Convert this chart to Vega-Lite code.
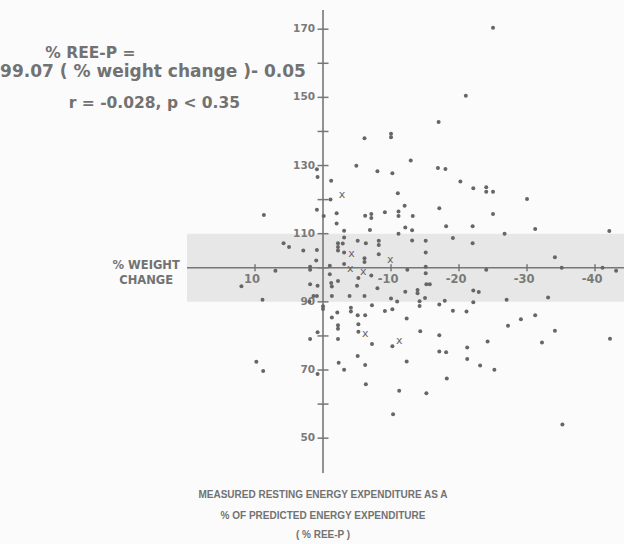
{
  "$schema": "https://vega.github.io/schema/vega-lite/v6.json",
  "width": 624,
  "height": 544,
  "padding": 0,
  "autosize": "none",
  "background": "#fbfbfb",
  "config": {"view": {"stroke": null}, "text": {"font": "DejaVu Sans", "color": "#6e6e6e"}},
  "datasets": {
    "band": [{"x": 20, "x2": -44.3, "y": 90, "y2": 110}],
    "axes": [
      {"x": 20, "x2": -44.3, "y": 100, "y2": 100},
      {"x": 0, "x2": 0, "y": 39.8, "y2": 175.6}
    ],
    "yticks": [{"v": 50}, {"v": 60}, {"v": 70}, {"v": 80}, {"v": 90}, {"v": 100}, {"v": 110}, {"v": 120}, {"v": 130}, {"v": 140}, {"v": 150}, {"v": 160}, {"v": 170}],
    "ylabels": [{"v": 50, "label": "50"}, {"v": 70, "label": "70"}, {"v": 90, "label": "90"}, {"v": 110, "label": "110"}, {"v": 130, "label": "130"}, {"v": 150, "label": "150"}, {"v": 170, "label": "170"}],
    "xticks": [{"v": 10}, {"v": -10}, {"v": -20}, {"v": -30}, {"v": -40}],
    "xlabels": [{"v": 10, "label": "10"}, {"v": -10, "label": "-10"}, {"v": -20, "label": "-20"}, {"v": -30, "label": "-30"}, {"v": -40, "label": "-40"}],
    "dots": [
      {"x": -25.0, "y": 170.4}, {"x": -21.0, "y": 150.5}, {"x": -17.0, "y": 142.8}, {"x": -6.1, "y": 138.0}, {"x": -10.0, "y": 139.3}, {"x": -10.0, "y": 138.3}, {"x": -12.9, "y": 131.5}, {"x": -4.9, "y": 129.9}, {"x": 0.9, "y": 128.9}, {"x": -16.9, "y": 129.3},
      {"x": -18.0, "y": 129.0}, {"x": -8.0, "y": 128.3}, {"x": -10.2, "y": 127.7}, {"x": 0.8, "y": 126.6}, {"x": -1.2, "y": 125.5}, {"x": -20.2, "y": 125.3}, {"x": -22.1, "y": 123.3}, {"x": -24.0, "y": 123.6}, {"x": -24.0, "y": 122.3}, {"x": -25.0, "y": 122.3},
      {"x": -11.0, "y": 121.9}, {"x": -30.0, "y": 120.2}, {"x": -1.1, "y": 120.0}, {"x": -12.0, "y": 118.2}, {"x": -17.1, "y": 117.5}, {"x": 0.9, "y": 117.0}, {"x": 8.7, "y": 115.5}, {"x": -0.1, "y": 115.2}, {"x": -2.0, "y": 116.0}, {"x": -6.2, "y": 115.3},
      {"x": -7.1, "y": 115.8}, {"x": -7.1, "y": 114.6}, {"x": -9.1, "y": 116.3}, {"x": -11.1, "y": 116.5}, {"x": -11.1, "y": 115.2}, {"x": -13.2, "y": 115.2}, {"x": -25.0, "y": 115.8}, {"x": -2.0, "y": 113.0}, {"x": -12.1, "y": 111.8}, {"x": -18.1, "y": 112.2},
      {"x": -22.0, "y": 112.2}, {"x": -3.1, "y": 110.9}, {"x": -6.9, "y": 111.1}, {"x": -13.1, "y": 111.0}, {"x": -11.1, "y": 110.0}, {"x": -26.7, "y": 110.0}, {"x": -31.2, "y": 111.4}, {"x": -42.1, "y": 110.8}, {"x": -3.1, "y": 108.9}, {"x": -5.1, "y": 107.9},
      {"x": -6.3, "y": 107.2}, {"x": -8.2, "y": 107.9}, {"x": -8.2, "y": 106.7}, {"x": -13.1, "y": 108.0}, {"x": -15.1, "y": 107.9}, {"x": -19.1, "y": 108.7}, {"x": -22.0, "y": 107.2}, {"x": 5.8, "y": 107.2}, {"x": 5.0, "y": 106.1}, {"x": 2.9, "y": 105.1},
      {"x": 0.9, "y": 105.2}, {"x": -2.2, "y": 107.2}, {"x": -2.2, "y": 106.1}, {"x": -2.2, "y": 105.1}, {"x": -2.9, "y": 107.1}, {"x": -3.1, "y": 104.5}, {"x": -8.2, "y": 104.0}, {"x": -15.1, "y": 104.5}, {"x": 1.0, "y": 102.1}, {"x": -3.1, "y": 101.1},
      {"x": -6.1, "y": 102.8}, {"x": -6.1, "y": 101.7}, {"x": -34.1, "y": 103.1}, {"x": 1.9, "y": 100.3}, {"x": 1.9, "y": 99.4}, {"x": -1.0, "y": 100.6}, {"x": 7.0, "y": 99.1}, {"x": -12.4, "y": 99.4}, {"x": -15.1, "y": 100.3}, {"x": -15.1, "y": 98.4},
      {"x": -24.0, "y": 99.4}, {"x": -35.1, "y": 100.0}, {"x": -41.1, "y": 100.0}, {"x": -43.1, "y": 99.1}, {"x": -1.0, "y": 98.1}, {"x": -7.1, "y": 97.7}, {"x": -5.2, "y": 97.0}, {"x": -2.2, "y": 96.1}, {"x": -1.2, "y": 95.5}, {"x": -1.3, "y": 94.5},
      {"x": 1.9, "y": 95.2}, {"x": 0.8, "y": 94.7}, {"x": -5.0, "y": 94.7}, {"x": -8.0, "y": 94.0}, {"x": 12.0, "y": 94.6}, {"x": -15.2, "y": 95.2}, {"x": -15.7, "y": 95.2}, {"x": -12.1, "y": 93.0}, {"x": -13.9, "y": 93.5}, {"x": -13.9, "y": 92.5},
      {"x": -22.1, "y": 93.3}, {"x": -22.9, "y": 92.9}, {"x": 8.9, "y": 90.6}, {"x": 1.4, "y": 91.7}, {"x": 0.9, "y": 91.7}, {"x": -1.3, "y": 91.7}, {"x": -3.9, "y": 91.7}, {"x": -6.1, "y": 91.7}, {"x": -10.0, "y": 91.0}, {"x": -10.9, "y": 90.1},
      {"x": -14.2, "y": 90.2}, {"x": -14.2, "y": 88.8}, {"x": -15.0, "y": 91.1}, {"x": -17.1, "y": 89.2}, {"x": -17.9, "y": 90.3}, {"x": -22.1, "y": 89.9}, {"x": -27.0, "y": 90.6}, {"x": -33.1, "y": 91.3}, {"x": 2.0, "y": 90.0}, {"x": 0.0, "y": 88.7},
      {"x": 0.0, "y": 87.9}, {"x": -2.1, "y": 86.9}, {"x": -4.1, "y": 88.3}, {"x": -4.1, "y": 87.2}, {"x": -7.2, "y": 89.0}, {"x": -9.1, "y": 87.3}, {"x": -10.2, "y": 87.8}, {"x": -19.1, "y": 87.4}, {"x": -21.1, "y": 87.2}, {"x": -1.3, "y": 85.4},
      {"x": -5.1, "y": 86.1}, {"x": -6.2, "y": 86.1}, {"x": -12.3, "y": 85.1}, {"x": -29.1, "y": 84.9}, {"x": -31.2, "y": 86.1}, {"x": -2.2, "y": 83.1}, {"x": -2.2, "y": 82.1}, {"x": -5.2, "y": 83.4}, {"x": -27.2, "y": 83.0}, {"x": -5.2, "y": 81.2},
      {"x": 0.8, "y": 81.1}, {"x": -14.3, "y": 81.4}, {"x": -17.1, "y": 80.2}, {"x": -34.1, "y": 81.5}, {"x": 1.9, "y": 79.1}, {"x": -2.2, "y": 79.1}, {"x": -7.2, "y": 77.6}, {"x": -10.2, "y": 77.0}, {"x": -24.2, "y": 78.4}, {"x": -32.2, "y": 78.1},
      {"x": -42.2, "y": 79.2}, {"x": -17.1, "y": 75.4}, {"x": -18.1, "y": 75.2}, {"x": -21.2, "y": 76.6}, {"x": -5.1, "y": 74.1}, {"x": 9.8, "y": 72.4}, {"x": 8.8, "y": 69.7}, {"x": -2.3, "y": 72.1}, {"x": -3.1, "y": 70.1}, {"x": -6.2, "y": 71.5},
      {"x": 0.8, "y": 68.8}, {"x": -12.3, "y": 72.5}, {"x": -21.2, "y": 73.2}, {"x": -23.1, "y": 71.3}, {"x": -25.2, "y": 70.1}, {"x": -6.3, "y": 65.8}, {"x": -11.2, "y": 63.9}, {"x": -15.2, "y": 63.2}, {"x": -18.2, "y": 67.5}, {"x": -10.3, "y": 57.0},
      {"x": -35.2, "y": 54.0}
    ],
    "crosses": [
      {"x": -2.8, "y": 121.4}, {"x": -4.2, "y": 103.9}, {"x": -9.9, "y": 102.3}, {"x": -4.0, "y": 99.6}, {"x": -5.9, "y": 98.9}, {"x": -6.2, "y": 80.5}, {"x": -11.2, "y": 78.5}
    ],
    "equation": [
      {"x": 34.2, "y": 163.0, "text": "% REE-P =", "line": 1},
      {"x": 25.0, "y": 157.4, "text": "99.07 ( % weight change )- 0.05", "line": 2},
      {"x": 24.8, "y": 148.4, "text": "r = -0.028, p < 0.35", "line": 3}
    ],
    "weightlabel": [
      {"x": 26.0, "y": 100.5, "text": "% WEIGHT"},
      {"x": 26.0, "y": 96.2, "text": "CHANGE"}
    ],
    "bottomtitle": [
      {"x": 0, "y": 33.3, "text": "MEASURED RESTING ENERGY EXPENDITURE AS A"},
      {"x": 0, "y": 27.25, "text": "% OF PREDICTED ENERGY EXPENDITURE"},
      {"x": 0, "y": 21.6, "text": "( % REE-P )"}
    ]
  },
  "layer": [
    {
      "data": {"name": "band"},
      "mark": {"type": "rect", "color": "#e7e7e7"},
      "encoding": {
        "x": {"field": "x", "type": "quantitative", "scale": {"domain": [-44.26, 47.5], "reverse": true, "nice": false, "zero": false}, "axis": null},
        "x2": {"field": "x2"},
        "y": {"field": "y", "type": "quantitative", "scale": {"domain": [18.95, 178.57], "nice": false, "zero": false}, "axis": null},
        "y2": {"field": "y2"}
      }
    },
    {
      "data": {"name": "axes"},
      "mark": {"type": "rule", "color": "#777777", "strokeWidth": 1.6},
      "encoding": {
        "x": {"field": "x", "type": "quantitative"},
        "x2": {"field": "x2"},
        "y": {"field": "y", "type": "quantitative"},
        "y2": {"field": "y2"}
      }
    },
    {
      "data": {"name": "yticks"},
      "mark": {"type": "tick", "orient": "horizontal", "size": 11, "thickness": 1.5, "color": "#777777", "opacity": 1},
      "encoding": {
        "x": {"datum": 0, "type": "quantitative"},
        "y": {"field": "v", "type": "quantitative"}
      }
    },
    {
      "data": {"name": "xticks"},
      "mark": {"type": "tick", "orient": "vertical", "size": 7, "thickness": 1.5, "color": "#777777", "opacity": 1},
      "encoding": {
        "x": {"field": "v", "type": "quantitative"},
        "y": {"datum": 100, "type": "quantitative"}
      }
    },
    {
      "data": {"name": "ylabels"},
      "mark": {"type": "text", "align": "right", "baseline": "middle", "dx": -8, "fontSize": 10.5, "fontWeight": "bold", "color": "#7a7a7a"},
      "encoding": {
        "x": {"datum": 0, "type": "quantitative"},
        "y": {"field": "v", "type": "quantitative"},
        "text": {"field": "label"}
      }
    },
    {
      "data": {"name": "xlabels"},
      "mark": {"type": "text", "align": "center", "baseline": "middle", "dx": -3, "dy": 12, "fontSize": 11.5, "fontWeight": "bold", "color": "#7a7a7a"},
      "encoding": {
        "x": {"field": "v", "type": "quantitative"},
        "y": {"datum": 100, "type": "quantitative"},
        "text": {"field": "label"}
      }
    },
    {
      "data": {"name": "dots"},
      "mark": {"type": "point", "shape": "circle", "filled": true, "size": 16, "color": "#666666", "opacity": 1},
      "encoding": {
        "x": {"field": "x", "type": "quantitative"},
        "y": {"field": "y", "type": "quantitative"}
      }
    },
    {
      "data": {"name": "crosses"},
      "mark": {"type": "text", "text": "x", "align": "center", "baseline": "middle", "fontSize": 11, "color": "#666666"},
      "encoding": {
        "x": {"field": "x", "type": "quantitative"},
        "y": {"field": "y", "type": "quantitative"}
      }
    },
    {
      "data": {"name": "equation"},
      "transform": [{"filter": "datum.line == 2"}],
      "mark": {"type": "text", "align": "center", "baseline": "middle", "fontSize": 17, "fontWeight": "bold", "color": "#727272"},
      "encoding": {
        "x": {"field": "x", "type": "quantitative"},
        "y": {"field": "y", "type": "quantitative"},
        "text": {"field": "text"}
      }
    },
    {
      "data": {"name": "equation"},
      "transform": [{"filter": "datum.line != 2"}],
      "mark": {"type": "text", "align": "center", "baseline": "middle", "fontSize": 15.5, "fontWeight": "bold", "color": "#727272"},
      "encoding": {
        "x": {"field": "x", "type": "quantitative"},
        "y": {"field": "y", "type": "quantitative"},
        "text": {"field": "text"}
      }
    },
    {
      "data": {"name": "weightlabel"},
      "mark": {"type": "text", "align": "center", "baseline": "middle", "fontSize": 11.5, "fontWeight": "bold", "color": "#727272"},
      "encoding": {
        "x": {"field": "x", "type": "quantitative"},
        "y": {"field": "y", "type": "quantitative"},
        "text": {"field": "text"}
      }
    },
    {
      "data": {"name": "bottomtitle"},
      "mark": {"type": "text", "align": "center", "baseline": "middle", "fontSize": 10, "fontWeight": "bold", "font": "Liberation Sans", "color": "#727272"},
      "encoding": {
        "x": {"field": "x", "type": "quantitative"},
        "y": {"field": "y", "type": "quantitative"},
        "text": {"field": "text"}
      }
    }
  ]
}
